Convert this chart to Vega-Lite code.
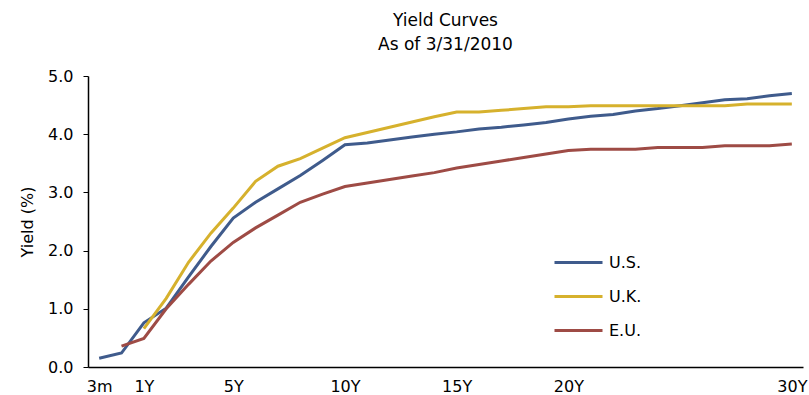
{
  "$schema": "https://vega.github.io/schema/vega-lite/v6.json",
  "autosize": "none",
  "width": 715,
  "height": 291,
  "padding": {"left": 88, "top": 76, "right": 6, "bottom": 28},
  "background": "white",
  "config": {
    "view": {"stroke": null},
    "font": "DejaVu Sans",
    "axis": {"labelFont": "DejaVu Sans", "titleFont": "DejaVu Sans", "labelColor": "#000", "titleColor": "#000", "domainColor": "#000", "tickColor": "#000", "grid": false}
  },
  "title": {
    "text": ["Yield Curves", "As of 3/31/2010"],
    "font": "DejaVu Sans",
    "fontSize": 17,
    "fontWeight": "normal",
    "color": "#000",
    "anchor": "middle",
    "lineHeight": 24,
    "offset": 14
  },
  "data": {
    "values": [
      {"maturity": "3m", "country": "U.S.", "yield": 0.15},
      {"maturity": "6m", "country": "U.S.", "yield": 0.24},
      {"maturity": "1Y", "country": "U.S.", "yield": 0.76},
      {"maturity": "2Y", "country": "U.S.", "yield": 1.01},
      {"maturity": "3Y", "country": "U.S.", "yield": 1.55},
      {"maturity": "4Y", "country": "U.S.", "yield": 2.07},
      {"maturity": "5Y", "country": "U.S.", "yield": 2.56},
      {"maturity": "6Y", "country": "U.S.", "yield": 2.83},
      {"maturity": "7Y", "country": "U.S.", "yield": 3.06},
      {"maturity": "8Y", "country": "U.S.", "yield": 3.29},
      {"maturity": "9Y", "country": "U.S.", "yield": 3.55},
      {"maturity": "10Y", "country": "U.S.", "yield": 3.82},
      {"maturity": "11Y", "country": "U.S.", "yield": 3.85},
      {"maturity": "12Y", "country": "U.S.", "yield": 3.9},
      {"maturity": "13Y", "country": "U.S.", "yield": 3.95},
      {"maturity": "14Y", "country": "U.S.", "yield": 4.0},
      {"maturity": "15Y", "country": "U.S.", "yield": 4.04},
      {"maturity": "16Y", "country": "U.S.", "yield": 4.09},
      {"maturity": "17Y", "country": "U.S.", "yield": 4.12},
      {"maturity": "18Y", "country": "U.S.", "yield": 4.16},
      {"maturity": "19Y", "country": "U.S.", "yield": 4.2},
      {"maturity": "20Y", "country": "U.S.", "yield": 4.26},
      {"maturity": "21Y", "country": "U.S.", "yield": 4.31},
      {"maturity": "22Y", "country": "U.S.", "yield": 4.34},
      {"maturity": "23Y", "country": "U.S.", "yield": 4.4},
      {"maturity": "24Y", "country": "U.S.", "yield": 4.44},
      {"maturity": "25Y", "country": "U.S.", "yield": 4.49},
      {"maturity": "26Y", "country": "U.S.", "yield": 4.54},
      {"maturity": "27Y", "country": "U.S.", "yield": 4.59},
      {"maturity": "28Y", "country": "U.S.", "yield": 4.61},
      {"maturity": "29Y", "country": "U.S.", "yield": 4.66},
      {"maturity": "30Y", "country": "U.S.", "yield": 4.7},
      {"maturity": "1Y", "country": "U.K.", "yield": 0.66},
      {"maturity": "2Y", "country": "U.K.", "yield": 1.18},
      {"maturity": "3Y", "country": "U.K.", "yield": 1.8},
      {"maturity": "4Y", "country": "U.K.", "yield": 2.3},
      {"maturity": "5Y", "country": "U.K.", "yield": 2.73},
      {"maturity": "6Y", "country": "U.K.", "yield": 3.19},
      {"maturity": "7Y", "country": "U.K.", "yield": 3.45},
      {"maturity": "8Y", "country": "U.K.", "yield": 3.58},
      {"maturity": "9Y", "country": "U.K.", "yield": 3.76},
      {"maturity": "10Y", "country": "U.K.", "yield": 3.94},
      {"maturity": "11Y", "country": "U.K.", "yield": 4.03},
      {"maturity": "12Y", "country": "U.K.", "yield": 4.12},
      {"maturity": "13Y", "country": "U.K.", "yield": 4.21},
      {"maturity": "14Y", "country": "U.K.", "yield": 4.3},
      {"maturity": "15Y", "country": "U.K.", "yield": 4.38},
      {"maturity": "16Y", "country": "U.K.", "yield": 4.38},
      {"maturity": "17Y", "country": "U.K.", "yield": 4.41},
      {"maturity": "18Y", "country": "U.K.", "yield": 4.44},
      {"maturity": "19Y", "country": "U.K.", "yield": 4.47},
      {"maturity": "20Y", "country": "U.K.", "yield": 4.47},
      {"maturity": "21Y", "country": "U.K.", "yield": 4.49},
      {"maturity": "22Y", "country": "U.K.", "yield": 4.49},
      {"maturity": "23Y", "country": "U.K.", "yield": 4.49},
      {"maturity": "24Y", "country": "U.K.", "yield": 4.49},
      {"maturity": "25Y", "country": "U.K.", "yield": 4.49},
      {"maturity": "26Y", "country": "U.K.", "yield": 4.49},
      {"maturity": "27Y", "country": "U.K.", "yield": 4.49},
      {"maturity": "28Y", "country": "U.K.", "yield": 4.52},
      {"maturity": "29Y", "country": "U.K.", "yield": 4.52},
      {"maturity": "30Y", "country": "U.K.", "yield": 4.52},
      {"maturity": "6m", "country": "E.U.", "yield": 0.36},
      {"maturity": "1Y", "country": "E.U.", "yield": 0.49},
      {"maturity": "2Y", "country": "E.U.", "yield": 1.0},
      {"maturity": "3Y", "country": "E.U.", "yield": 1.42},
      {"maturity": "4Y", "country": "E.U.", "yield": 1.82},
      {"maturity": "5Y", "country": "E.U.", "yield": 2.14},
      {"maturity": "6Y", "country": "E.U.", "yield": 2.39},
      {"maturity": "7Y", "country": "E.U.", "yield": 2.61},
      {"maturity": "8Y", "country": "E.U.", "yield": 2.83},
      {"maturity": "9Y", "country": "E.U.", "yield": 2.97},
      {"maturity": "10Y", "country": "E.U.", "yield": 3.1},
      {"maturity": "11Y", "country": "E.U.", "yield": 3.16},
      {"maturity": "12Y", "country": "E.U.", "yield": 3.22},
      {"maturity": "13Y", "country": "E.U.", "yield": 3.28},
      {"maturity": "14Y", "country": "E.U.", "yield": 3.34},
      {"maturity": "15Y", "country": "E.U.", "yield": 3.42},
      {"maturity": "16Y", "country": "E.U.", "yield": 3.48},
      {"maturity": "17Y", "country": "E.U.", "yield": 3.54},
      {"maturity": "18Y", "country": "E.U.", "yield": 3.6},
      {"maturity": "19Y", "country": "E.U.", "yield": 3.66},
      {"maturity": "20Y", "country": "E.U.", "yield": 3.72},
      {"maturity": "21Y", "country": "E.U.", "yield": 3.74},
      {"maturity": "22Y", "country": "E.U.", "yield": 3.74},
      {"maturity": "23Y", "country": "E.U.", "yield": 3.74},
      {"maturity": "24Y", "country": "E.U.", "yield": 3.77},
      {"maturity": "25Y", "country": "E.U.", "yield": 3.77},
      {"maturity": "26Y", "country": "E.U.", "yield": 3.77},
      {"maturity": "27Y", "country": "E.U.", "yield": 3.8},
      {"maturity": "28Y", "country": "E.U.", "yield": 3.8},
      {"maturity": "29Y", "country": "E.U.", "yield": 3.8},
      {"maturity": "30Y", "country": "E.U.", "yield": 3.83}
    ]
  },
  "mark": {"type": "line", "strokeWidth": 3},
  "encoding": {
    "x": {
      "field": "maturity",
      "type": "ordinal",
      "scale": {
        "type": "point",
        "padding": 0.5,
        "domain": ["3m", "6m", "1Y", "2Y", "3Y", "4Y", "5Y", "6Y", "7Y", "8Y", "9Y", "10Y", "11Y", "12Y", "13Y", "14Y", "15Y", "16Y", "17Y", "18Y", "19Y", "20Y", "21Y", "22Y", "23Y", "24Y", "25Y", "26Y", "27Y", "28Y", "29Y", "30Y"]
      },
      "axis": {
        "title": null,
        "labelAngle": 0,
        "ticks": false,
        "labelOverlap": false,
        "labelFontSize": 16,
        "labelPadding": 11,
        "domainWidth": 1.5,
        "labelExpr": "indexof(['3m','1Y','5Y','10Y','15Y','20Y','30Y'], datum.value) >= 0 ? datum.value : ''"
      }
    },
    "y": {
      "field": "yield",
      "type": "quantitative",
      "scale": {"domain": [0, 5], "nice": false},
      "axis": {
        "title": "Yield (%)",
        "values": [0, 1, 2, 3, 4, 5],
        "format": ".1f",
        "labelFontSize": 16,
        "titleFontSize": 16,
        "titleFontWeight": "normal",
        "tickSize": 5,
        "labelPadding": 10,
        "titlePadding": 12,
        "domainWidth": 1.5
      }
    },
    "color": {
      "field": "country",
      "type": "nominal",
      "scale": {"domain": ["U.S.", "U.K.", "E.U."], "range": ["#3F5B8C", "#D6B12D", "#9E4B45"]},
      "legend": {
        "title": null,
        "orient": "none",
        "legendX": 465,
        "legendY": 161,
        "symbolType": "stroke",
        "symbolSize": 2304,
        "symbolStrokeWidth": 3,
        "labelFontSize": 16,
        "labelOffset": 5,
        "rowPadding": 0
      }
    },
    "order": {"value": null}
  }
}
